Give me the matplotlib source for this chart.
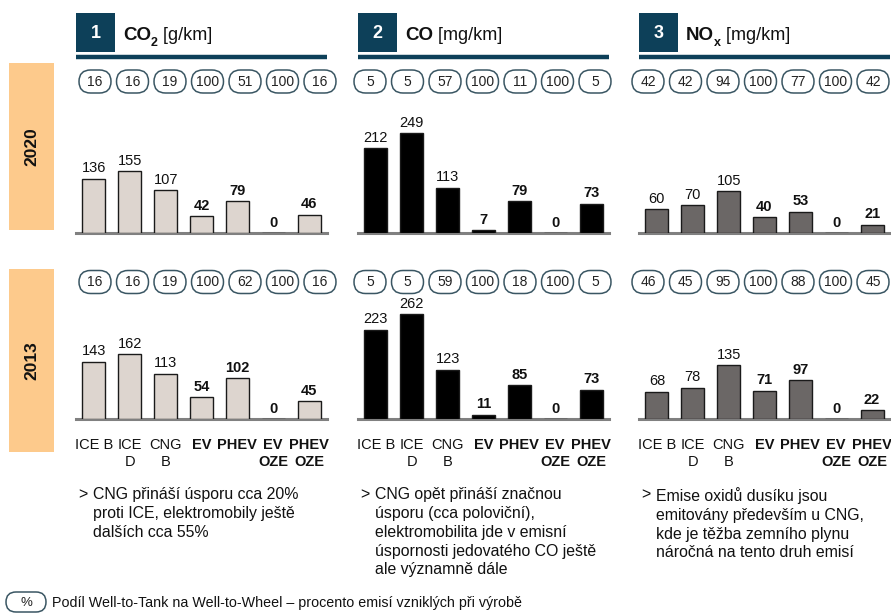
import matplotlib
matplotlib.use('Agg')
import matplotlib.pyplot as plt
from matplotlib.patches import FancyBboxPatch, Rectangle

plt.rcParams['font.family'] = ['Liberation Sans Narrow', 'Liberation Sans', 'DejaVu Sans']

# data
categories = ['ICE B', 'ICE\nD', 'CNG\nB', 'EV', 'PHEV', 'EV\nOZE', 'PHEV\nOZE']
bold_cat = [False, False, False, True, True, True, True]
years = ['2020', '2013']

co2_2020 = [136, 155, 107, 42, 79, 0, 46]
co2_2013 = [143, 162, 113, 54, 102, 0, 45]
co_2020 = [212, 249, 113, 7, 79, 0, 73]
co_2013 = [223, 262, 123, 11, 85, 0, 73]
nox_2020 = [60, 70, 105, 40, 53, 0, 21]
nox_2013 = [68, 78, 135, 71, 97, 0, 22]

# Well-to-Tank share (%)
wtt_co2_2020 = [16, 16, 19, 100, 51, 100, 16]
wtt_co2_2013 = [16, 16, 19, 100, 62, 100, 16]
wtt_co_2020 = [5, 5, 57, 100, 11, 100, 5]
wtt_co_2013 = [5, 5, 59, 100, 18, 100, 5]
wtt_nox_2020 = [42, 42, 94, 100, 77, 100, 42]
wtt_nox_2013 = [46, 45, 95, 100, 88, 100, 45]

panel_nums = ['1', '2', '3']
panel_names = ['CO', 'CO', 'NO']
panel_subs = ['2', '', 'x']
panel_units = [' [g/km]', ' [mg/km]', ' [mg/km]']
bar_colors = ['#ddd5cf', '#000000', '#6b6766']

notes = [
    'CNG přináší úsporu cca 20%\nproti ICE, elektromobily ještě\ndalších cca 55%',
    'CNG opět přináší značnou\núsporu (cca poloviční),\nelektromobilita jde v emisní\núspornosti jedovatého CO ještě\nale významně dále',
    'Emise oxidů dusíku jsou\nemitovány především u CNG,\nkde je těžba zemního plynu\nnáročná na tento druh emisí',
]
legend_text = 'Podíl Well-to-Tank na Well-to-Wheel – procento emisí vzniklých při výrobě'

values = [[co2_2020, co2_2013], [co_2020, co_2013], [nox_2020, nox_2013]]
wtt = [[wtt_co2_2020, wtt_co2_2013], [wtt_co_2020, wtt_co_2013], [wtt_nox_2020, wtt_nox_2013]]

# layout (pixels)
W, H = 891, 615
panel_left = [76, 358, 639]
panel_w = 251
baseline = [233, 419]
oval_y = [81.5, 282]
oval_off = [19, 12, 9]
oval_step = 37.5
band_y = [(63, 230), (269, 452)]
navy = '#0d4059'
ymax = 300
ax_h = 120

fig = plt.figure(figsize=(8.91, 6.15), dpi=100)
bg = fig.add_axes([0, 0, 1, 1], zorder=0)
bg.set_xlim(0, W)
bg.set_ylim(H, 0)
bg.axis('off')

# year bands
for yr, (y0, y1) in zip(years, band_y):
    bg.add_patch(Rectangle((9, y0), 45, y1 - y0, color='#fdca8c', lw=0))
    bg.text(31.5, (y0 + y1) / 2, yr, rotation=90, ha='center', va='center',
            fontsize=12.5, fontweight='bold', color='#111111')

for p in range(3):
    L = panel_left[p]
    # header
    bg.add_patch(Rectangle((L, 13), 39, 39, color=navy, lw=0))
    bg.text(L + 19.5, 33, panel_nums[p], color='white', fontsize=13,
            fontweight='bold', ha='center', va='center')
    bg.plot([L, L + panel_w], [57, 57], color=navy, lw=3.2, solid_capstyle='butt')
    t1 = bg.text(L + 47, 35, panel_names[p], fontsize=13.5, fontweight='bold',
                 ha='left', va='center', color='#111111')
    t2 = bg.annotate(panel_subs[p], xy=(1, 0.05), xycoords=t1, fontsize=9,
                     fontweight='bold', ha='left', va='center', color='#111111')
    bg.annotate(panel_units[p], xy=(1, 0.5), xycoords=(t2, t1), fontsize=13,
                ha='left', va='center', color='#111111')

    for r in range(2):
        # WtT ovals
        for i, v in enumerate(wtt[p][r]):
            cx = L + oval_off[p] + i * oval_step
            cy = oval_y[r]
            bg.add_patch(FancyBboxPatch((cx - 16 + 11.5, cy), 9, 0,
                                        boxstyle='round,pad=11.5',
                                        fc='white', ec='#3a5663', lw=1.1))
            bg.text(cx, cy + 0.5, str(v), ha='center', va='center', fontsize=10,
                    color='#222222')

        # bars
        ax = fig.add_axes([L / W, (H - baseline[r]) / H, panel_w / W, ax_h / H],
                          zorder=1)
        ax.patch.set_alpha(0)
        x = list(range(len(categories)))
        ax.bar(x, values[p][r], width=0.64, color=bar_colors[p],
               edgecolor='#1a1a1a', linewidth=1, zorder=2)
        ax.axhline(0, color='#808080', lw=2.2, zorder=1, clip_on=False)
        for i, v in enumerate(values[p][r]):
            ax.annotate(str(v), (i, v), xytext=(0, 2.5), textcoords='offset points',
                        ha='center', va='bottom', fontsize=10.5,
                        fontweight='bold' if bold_cat[i] else 'normal',
                        color='#111111', annotation_clip=False)
        ax.set_xlim(-0.5, 6.5)
        ax.set_ylim(0, ymax)
        ax.set_yticks([])
        for s in ax.spines.values():
            s.set_visible(False)
        if r == 1:
            ax.set_xticks(x)
            ax.set_xticklabels(categories, fontsize=10.5, linespacing=1.25,
                               color='#111111')
            for lab, b in zip(ax.get_xticklabels(), bold_cat):
                lab.set_fontweight('bold' if b else 'normal')
            ax.tick_params(axis='x', length=0, pad=14)
        else:
            ax.set_xticks([])

    # bullet notes
    bg.text(L + 2, 487, '>', fontsize=11.5, ha='left', va='top', color='#111111')
    bg.text(L + 17, 487, notes[p], fontsize=11.4, ha='left', va='top',
            linespacing=1.32, color='#111111')

# legend
bg.add_patch(FancyBboxPatch((16, 602), 20, 0,
                            boxstyle='round,pad=10', fc='white', ec='#3a5663', lw=1.1))
bg.text(26, 603, '%', ha='center', va='center', fontsize=9.5, color='#222222')
bg.text(52, 603, legend_text, ha='left', va='center', fontsize=10.3, color='#111111')

fig.savefig('out.png', dpi=100)
